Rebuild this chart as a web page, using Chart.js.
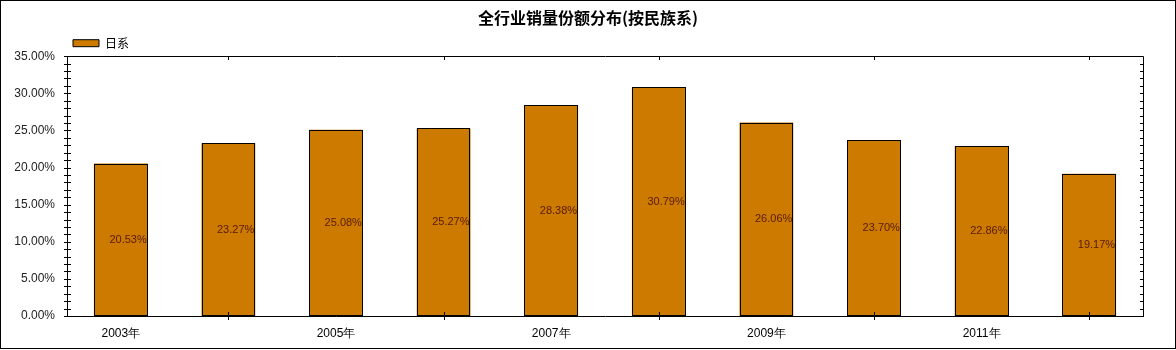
<!DOCTYPE html>
<html>
<head>
<meta charset="utf-8">
<script src="https://cdn.jsdelivr.net/npm/chart.js@4/dist/chart.umd.min.js"></script>
<style>
  body { margin: 0; background: #fff; }
  #wrap { width: 1176px; height: 350px; }
</style>
</head>
<body>
<div id="wrap"><canvas id="c" width="1176" height="350"></canvas></div>
<script>
const years = ['2003年', '2004年', '2005年', '2006年', '2007年', '2008年', '2009年', '2010年', '2011年', '2012年'];
const japanShare = [20.53, 23.27, 25.08, 25.27, 28.38, 30.79, 26.06, 23.70, 22.86, 19.17];
const seriesName = '日系';
const chartTitle = '全行业销量份额分布(按民族系)';
const yMax = 35;

const barColor = '#CC7A00';
const labelFont = '"Liberation Sans", Arial, sans-serif';

// crisp bar outlines, inner value labels, axis ticks and frame
const decorations = {
  id: 'decorations',
  afterDatasetsDraw(chart) {
    const { ctx } = chart;
    const meta = chart.getDatasetMeta(0);
    ctx.save();
    ctx.strokeStyle = '#000';
    ctx.lineWidth = 1;
    meta.data.forEach((bar) => {
      const l = Math.round(bar.x - bar.width / 2) + 0.5;
      const r = Math.round(bar.x + bar.width / 2) - 0.5;
      const t = Math.round(bar.y) + 0.5;
      const b = Math.round(bar.base) - 0.5;
      ctx.strokeRect(l, t, r - l, b - t);
    });
    ctx.font = '11px ' + labelFont;
    ctx.fillStyle = '#5a1a00';
    ctx.textAlign = 'right';
    ctx.textBaseline = 'middle';
    meta.data.forEach((bar, i) => {
      ctx.fillText(japanShare[i].toFixed(2) + '%', bar.x + bar.width / 2 - 1, (bar.y + bar.base) / 2);
    });
    ctx.restore();
  },
  afterDraw(chart) {
    const { ctx, chartArea: a, scales: { x, y } } = chart;
    const L = Math.round(a.left), R = Math.round(a.right), T = Math.round(a.top), B = Math.round(a.bottom);
    ctx.save();
    ctx.strokeStyle = '#000';
    ctx.lineWidth = 1;
    ctx.beginPath();
    ctx.moveTo(L + 0.5, T + 0.5);
    ctx.lineTo(R + 0.5, T + 0.5);
    ctx.lineTo(R + 0.5, B + 0.5);
    y.ticks.forEach((t, i) => {
      const py = Math.round(y.getPixelForTick(i)) + 0.5;
      ctx.moveTo(L - 3, py);
      ctx.lineTo(L + 4, py);
      ctx.moveTo(R - 3, py);
      ctx.lineTo(R, py);
    });
    x.ticks.forEach((t, i) => {
      if (i % 2 === 0) return;
      const px = Math.round(x.getPixelForTick(i)) + 0.5;
      ctx.moveTo(px, B - 4);
      ctx.lineTo(px, B + 4);
      ctx.moveTo(px, T);
      ctx.lineTo(px, T + 4);
    });
    ctx.stroke();
    ctx.strokeRect(0.5, 0.5, chart.width - 1, chart.height - 2);
    ctx.restore();
  }
};

new Chart(document.getElementById('c'), {
  type: 'bar',
  data: {
    labels: years,
    datasets: [{
      label: seriesName,
      data: japanShare,
      backgroundColor: barColor,
      borderColor: '#000',
      borderWidth: 0,
      categoryPercentage: 1,
      barPercentage: 0.5
    }]
  },
  options: {
    responsive: false,
    animation: false,
    devicePixelRatio: 1,
    layout: { padding: 0 },
    plugins: {
      tooltip: { enabled: false },
      title: {
        display: true,
        text: chartTitle,
        color: '#000',
        font: { family: '"Noto Sans CJK SC", sans-serif', size: 16, weight: 'bold' },
        padding: { top: 8, bottom: 4 }
      },
      legend: {
        display: true,
        position: 'top',
        align: 'start',
        fullSize: false,
        maxHeight: 25,
        labels: {
          boxWidth: 26,
          boxHeight: 7,
          padding: 6,
          color: '#000',
          font: { family: '"Noto Sans CJK SC", sans-serif', size: 12 },
          generateLabels: (chart) => [{
            text: seriesName,
            fillStyle: barColor,
            strokeStyle: '#000',
            lineWidth: 1,
            datasetIndex: 0
          }]
        }
      }
    },
    scales: {
      x: {
        grid: { display: false, offset: false, drawTicks: false },
        border: { display: true, color: '#000', width: 1 },
        ticks: {
          autoSkip: false,
          maxRotation: 0,
          padding: 10,
          color: '#000',
          font: { family: labelFont, size: 12 },
          callback: (v, i) => (i % 2 === 0 ? years[i] : '')
        },
        afterFit: (s) => { s.height = 34; }
      },
      y: {
        min: 0,
        max: yMax,
        grid: { display: false, drawTicks: false },
        border: { display: true, color: '#000', width: 1 },
        ticks: {
          stepSize: 1,
          autoSkip: false,
          padding: 12,
          color: '#222',
          font: { family: labelFont, size: 12 },
          callback: (v) => (v % 5 === 0 ? v.toFixed(2) + '%' : '')
        },
        afterFit: (s) => { s.width = 67; }
      },
      yRight: {
        position: 'right',
        min: 0,
        max: yMax,
        grid: { display: false, drawTicks: false },
        border: { display: false },
        ticks: { display: false },
        afterFit: (s) => { s.width = 33; }
      }
    }
  },
  plugins: [decorations]
});
</script>
</body>
</html>
